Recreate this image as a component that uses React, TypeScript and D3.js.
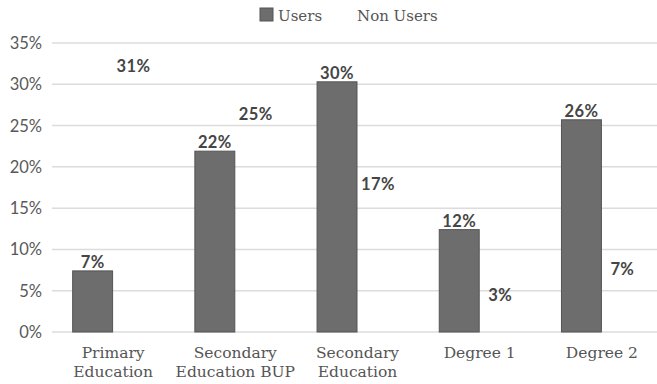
import React from "react";
import * as d3 from "d3";

// Share of respondents by education level
const categories: string[][] = [
  ["Primary", "Education"],
  ["Secondary", "Education BUP"],
  ["Secondary", "Education"],
  ["Degree 1"],
  ["Degree 2"],
];
const seriesNames = ["Users", "Non Users"];
const users = [7.4, 21.9, 30.3, 12.4, 25.7];
const nonUsers = [31.1, 25.3, 16.8, 3.4, 6.6];
const yTicks = [0, 5, 10, 15, 20, 25, 30, 35];

const W = 657;
const H = 384;
const margin = { left: 52, right: -6, top: 43, bottom: 52 };

const seriesFill: Record<string, string> = { Users: "#6d6d6d", "Non Users": "none" };
const seriesStroke: Record<string, string> = { Users: "#555555", "Non Users": "none" };

export default function App() {
  const keys = categories.map((c) => c.join(" "));
  const x = d3
    .scaleBand<string>()
    .domain(keys)
    .range([margin.left, W - margin.right])
    .paddingInner(0.33)
    .paddingOuter(0.165);
  const xs = d3.scaleBand<string>().domain(seriesNames).range([0, x.bandwidth()]);
  const y = d3.scaleLinear().domain([0, 35]).range([H - margin.bottom, margin.top]);

  const data = keys.map((k, i) => ({ key: k, values: [users[i], nonUsers[i]] }));
  const fmt = (v: number) => `${Math.round(v)}%`;

  const labelFont = "Lato, 'Open Sans', sans-serif";
  const serif = "'DejaVu Serif', 'Liberation Serif', serif";

  return (
    <svg
      width={W}
      height={H}
      style={{ position: "absolute", left: 0, top: 0, background: "#fff" }}
    >
      {/* gridlines and y tick labels */}
      {yTicks.map((t) => (
        <g key={t}>
          <line x1={margin.left} x2={W} y1={y(t)} y2={y(t)} stroke="#dcdcdc" strokeWidth={1.5} />
          <text
            x={42}
            y={y(t)}
            dy="0.36em"
            textAnchor="end"
            fontFamily={labelFont}
            fontSize={16.5}
            fill="#595959"
          >
            {t}%
          </text>
        </g>
      ))}

      {/* bars and value labels */}
      {data.map((d) => (
        <g key={d.key} transform={`translate(${x(d.key)},0)`}>
          {d.values.map((v, j) => {
            const s = seriesNames[j];
            const bx = xs(s)!;
            return (
              <g key={s}>
                <rect
                  x={bx + 0.5}
                  y={y(v)}
                  width={xs.bandwidth() - 1}
                  height={y(0) - y(v)}
                  fill={seriesFill[s]}
                  stroke={seriesStroke[s]}
                  strokeWidth={1}
                />
                <text
                  x={bx + xs.bandwidth() / 2}
                  y={y(v) - 3}
                  textAnchor="middle"
                  fontFamily={labelFont}
                  fontWeight="bold"
                  fontSize={16.5}
                  letterSpacing={0.4}
                  fill="#454545"
                >
                  {fmt(v)}
                </text>
              </g>
            );
          })}
        </g>
      ))}

      {/* category labels */}
      {categories.map((lines, i) => (
        <text
          key={i}
          x={x(keys[i])! + x.bandwidth() / 2}
          y={358}
          textAnchor="middle"
          fontFamily={serif}
          fontSize={15.5}
          fill="#555555"
        >
          {lines.map((ln, k) => (
            <tspan key={k} x={x(keys[i])! + x.bandwidth() / 2} dy={k === 0 ? 0 : 19}>
              {ln}
            </tspan>
          ))}
        </text>
      ))}

      {/* legend */}
      {seriesNames.map((s, i) => {
        const lx = [260, 339][i];
        return (
          <g key={s}>
            <rect
              x={lx}
              y={8}
              width={13}
              height={13}
              fill={seriesFill[s]}
              stroke={seriesStroke[s]}
            />
            <text x={lx + 18} y={20.5} fontFamily={serif} fontSize={15} fill="#555555">
              {s}
            </text>
          </g>
        );
      })}
    </svg>
  );
}
